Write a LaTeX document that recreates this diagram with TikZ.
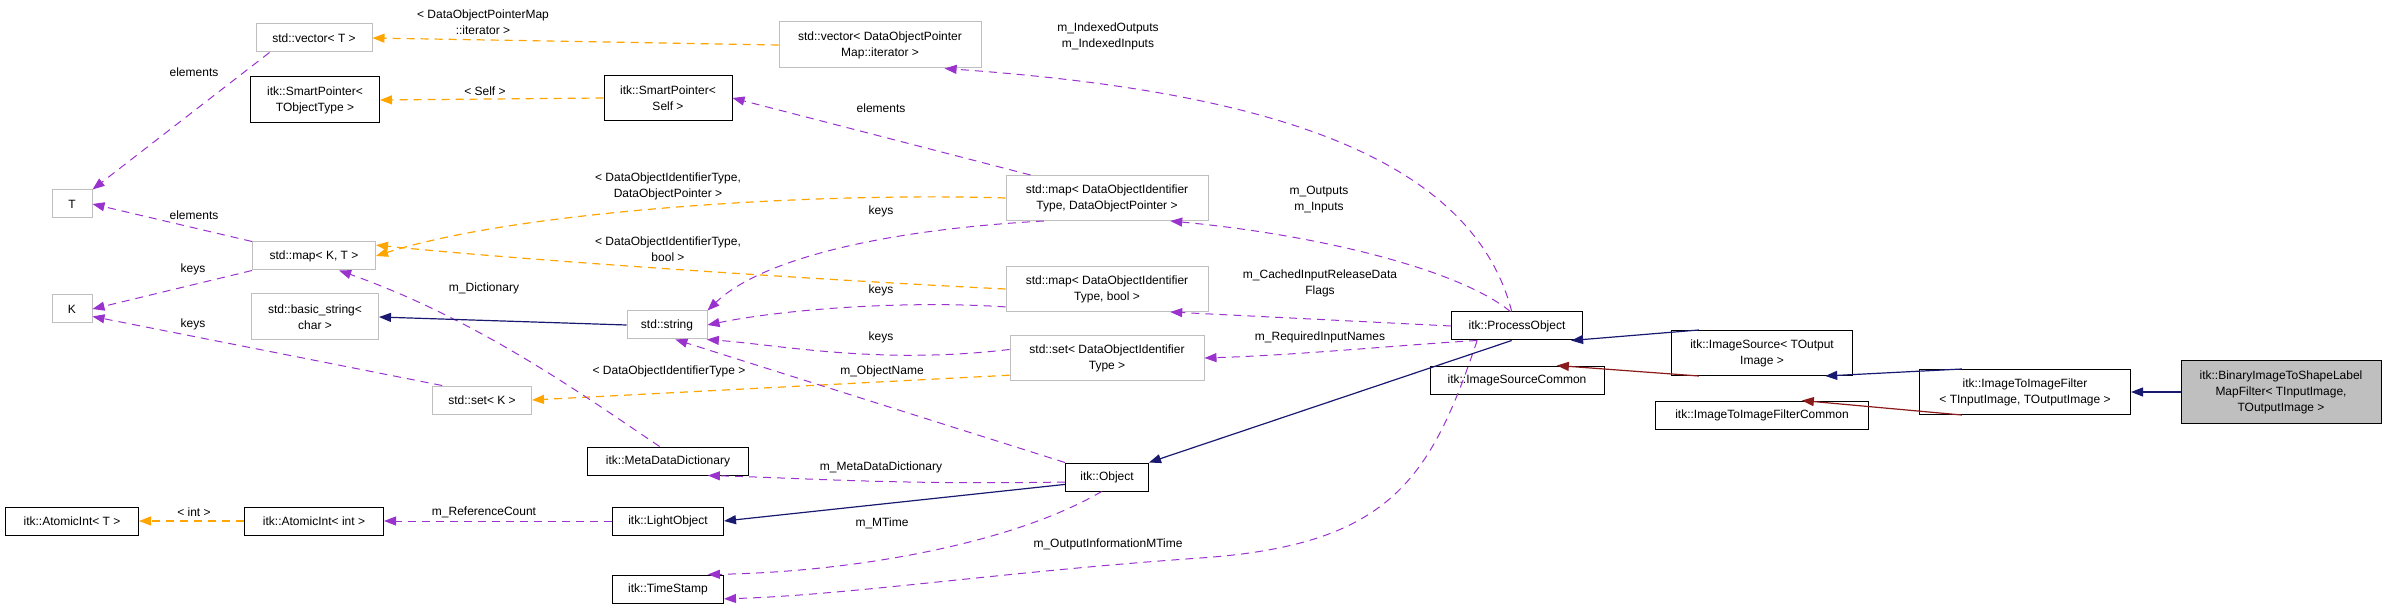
\documentclass[tikz,border=0pt]{standalone}
\usepackage{fontspec}
\setmainfont{Liberation Sans}
\usetikzlibrary{arrows.meta}
\definecolor{usec}{HTML}{9A32CD}
\definecolor{tmpc}{HTML}{FFA500}
\definecolor{inhc}{HTML}{191970}
\definecolor{prvc}{HTML}{8B1A1A}
\definecolor{gbox}{HTML}{BFBFBF}
\begin{document}
\begin{tikzpicture}[x=1pt,y=-1pt,
  txt/.style={font=\fontsize{12}{16}\selectfont},
  box/.style={txt,draw=black,line width=1pt,inner sep=0pt,align=center,minimum height=28pt},
  gb/.style={box,draw=gbox},
  lbl/.style={txt,inner sep=0pt,align=center},
  use/.style={draw=usec,dashed,dash pattern=on 8pt off 6pt,line width=1pt,-{Triangle[length=12pt,width=9pt]}},
  tmp/.style={draw=tmpc,dashed,dash pattern=on 8pt off 6pt,line width=1.2pt,-{Triangle[length=12pt,width=9pt]}},
  inh/.style={draw=inhc,line width=1.2pt,-{Triangle[length=12pt,width=9pt]}},
  prv/.style={draw=prvc,line width=1.2pt,-{Triangle[length=12pt,width=9pt]}}]
\useasboundingbox (0,0) rectangle (2387,609);
% nodes
\node[gb,minimum width=116pt] (vt) at (314,38) {std::vector< T >};
\node[box,minimum width=129pt,minimum height=46pt] (spt) at (315,100) {itk::SmartPointer<\\TObjectType >};
\node[gb,minimum width=40pt] (T) at (72,204) {T};
\node[gb,minimum width=123pt] (mkt) at (314,256) {std::map< K, T >};
\node[gb,minimum width=40pt] (K) at (72,309) {K};
\node[gb,minimum width=127pt,minimum height=46pt] (bs) at (315,317) {std::basic\_string<\\char >};
\node[gb,minimum width=80pt] (str) at (667,325) {std::string};
\node[gb,minimum width=99pt] (sk) at (482,400) {std::set< K >};
\node[box,minimum width=161pt] (mdd) at (668,461) {itk::MetaDataDictionary};
\node[box,minimum width=133pt] (ait) at (72,521) {itk::AtomicInt< T >};
\node[box,minimum width=139pt] (aii) at (314,521) {itk::AtomicInt< int >};
\node[box,minimum width=111pt] (lo) at (668,521) {itk::LightObject};
\node[box,minimum width=111pt] (ts) at (668,589) {itk::TimeStamp};
\node[gb,minimum width=202pt,minimum height=46pt] (vd) at (880,45) {std::vector< DataObjectPointer\\Map::iterator >};
\node[box,minimum width=128pt,minimum height=45pt] (sps) at (668,98) {itk::SmartPointer<\\Self >};
\node[gb,minimum width=202pt,minimum height=45pt] (md) at (1107,198) {std::map< DataObjectIdentifier\\Type, DataObjectPointer >};
\node[gb,minimum width=202pt,minimum height=45pt] (mb) at (1107,289) {std::map< DataObjectIdentifier\\Type, bool >};
\node[gb,minimum width=194pt,minimum height=45pt] (sd) at (1107,358) {std::set< DataObjectIdentifier\\Type >};
\node[box,minimum width=83pt] (ob) at (1107,477) {itk::Object};
\node[box,minimum width=131pt] (po) at (1517,326) {itk::ProcessObject};
\node[box,minimum width=174pt] (isc) at (1517,380) {itk::ImageSourceCommon};
\node[box,minimum width=181pt,minimum height=45pt] (is) at (1762,353) {itk::ImageSource< TOutput\\Image >};
\node[box,minimum width=213pt] (iic) at (1762,415) {itk::ImageToImageFilterCommon};
\node[box,minimum width=211pt,minimum height=45pt] (iif) at (2025,392) {itk::ImageToImageFilter\\< TInputImage, TOutputImage >};
\node[box,fill=gbox,minimum width=200pt,minimum height=62pt] (bin) at (2281,392) {itk::BinaryImageToShapeLabel\\MapFilter< TInputImage,\\TOutputImage >};
% template edges
\draw[tmp] (vd.west) -- (vt.east);
\node[lbl] (l1) at (483,22) {< DataObjectPointerMap\\::iterator >};
\draw[tmp] (sps.west) -- (spt.east);
\node[lbl] (l2) at (485,91) {< Self >};
\draw[tmp] (md.west) .. controls (820,192) and (520,210) .. (mkt.east);
\node[lbl] (l3) at (668,186) {< DataObjectIdentifierType,\\DataObjectPointer >};
\draw[tmp] (mb.west) .. controls (820,280) and (520,260) .. (mkt.10);
\node[lbl] (l4) at (668,249) {< DataObjectIdentifierType,\\bool >};
\draw[tmp] (sd.190) -- (sk.east);
\node[lbl] (l5) at (669,371) {< DataObjectIdentifierType >};
\draw[tmp] (aii.west) -- (ait.east);
\node[lbl] (l6) at (194,512) {< int >};
% usage edges
\draw[use] (vt.south west) ++(14,0) coordinate (c1) -- (T.north east);
\node[lbl] (l7) at (194,72) {elements};
\draw[use] (mkt.north west) -- (T.east);
\node[lbl] (l8) at (194,215) {elements};
\draw[use] (mkt.south west) -- (K.east);
\node[lbl] (l9) at (193,269) {keys};
\draw[use] (sk.160) -- (K.-20);
\node[lbl] (l10) at (193,324) {keys};
\draw[use] (po.110) .. controls (1470,150) and (1250,90) .. (vd.-20);
\node[lbl] (l11) at (1108,36) {m\_IndexedOutputs\\m\_IndexedInputs};
\draw[use] (md.north west) ++(25,0) coordinate (c2) -- (sps.east);
\node[lbl] (l12) at (881,108) {elements};
\draw[use] (md.200) .. controls (880,230) and (760,260) .. (str.north east);
\node[lbl] (l13) at (881,211) {keys};
\draw[use] (mb.190) .. controls (900,300) and (780,310) .. (str.east);
\node[lbl] (l14) at (881,290) {keys};
\draw[use] (sd.175) .. controls (880,365) and (780,345) .. (str.-20);
\node[lbl] (l15) at (881,337) {keys};
\draw[use] (po.115) .. controls (1460,270) and (1320,235) .. (md.-20);
\node[lbl] (l16) at (1319,200) {m\_Outputs\\m\_Inputs};
\draw[use] (po.west) -- (mb.-20);
\node[lbl] (l17) at (1320,283) {m\_CachedInputReleaseData\\Flags};
\draw[use] (po.200) .. controls (1400,345) and (1300,355) .. (sd.east);
\node[lbl] (l18) at (1320,337) {m\_RequiredInputNames};
\draw[use] (ob.north west) -- (str.-60);
\node[lbl] (l19) at (882,371) {m\_ObjectName};
\draw[use] (mdd.120) .. controls (590,400) and (480,320) .. (mkt.-30);
\node[lbl] (l20) at (484,288) {m\_Dictionary};
\draw[use] (ob.west) ++(0,5) coordinate (c3) .. controls (900,485) and (800,478) .. (mdd.-20);
\node[lbl] (l21) at (881,467) {m\_MetaDataDictionary};
\draw[use] (lo.west) -- (aii.east);
\node[lbl] (l22) at (484,512) {m\_ReferenceCount};
\draw[use] (ob.-110) .. controls (1010,545) and (850,572) .. (ts.20);
\node[lbl] (l23) at (882,523) {m\_MTime};
\draw[use] (po.-160) .. controls (1430,480) and (1390,545) .. (1200,558) .. controls (1000,572) and (850,595) .. (ts.-10);
\node[lbl] (l24) at (1108,544) {m\_OutputInformationMTime};
% inheritance
\draw[inh] (str.west) -- (bs.east);
\draw[inh] (ob.190) -- (lo.east);
\draw[inh] (po.-110) -- (ob.north east);
\draw[inh] (is.160) -- (po.-15);
\draw[inh] (iif.160) -- (is.-20);
\draw[inh] (bin.west) -- (iif.east);
\draw[prv] (is.-160) -- (isc.20);
\draw[prv] (iif.-160) -- (iic.20);
\end{tikzpicture}
\end{document}
